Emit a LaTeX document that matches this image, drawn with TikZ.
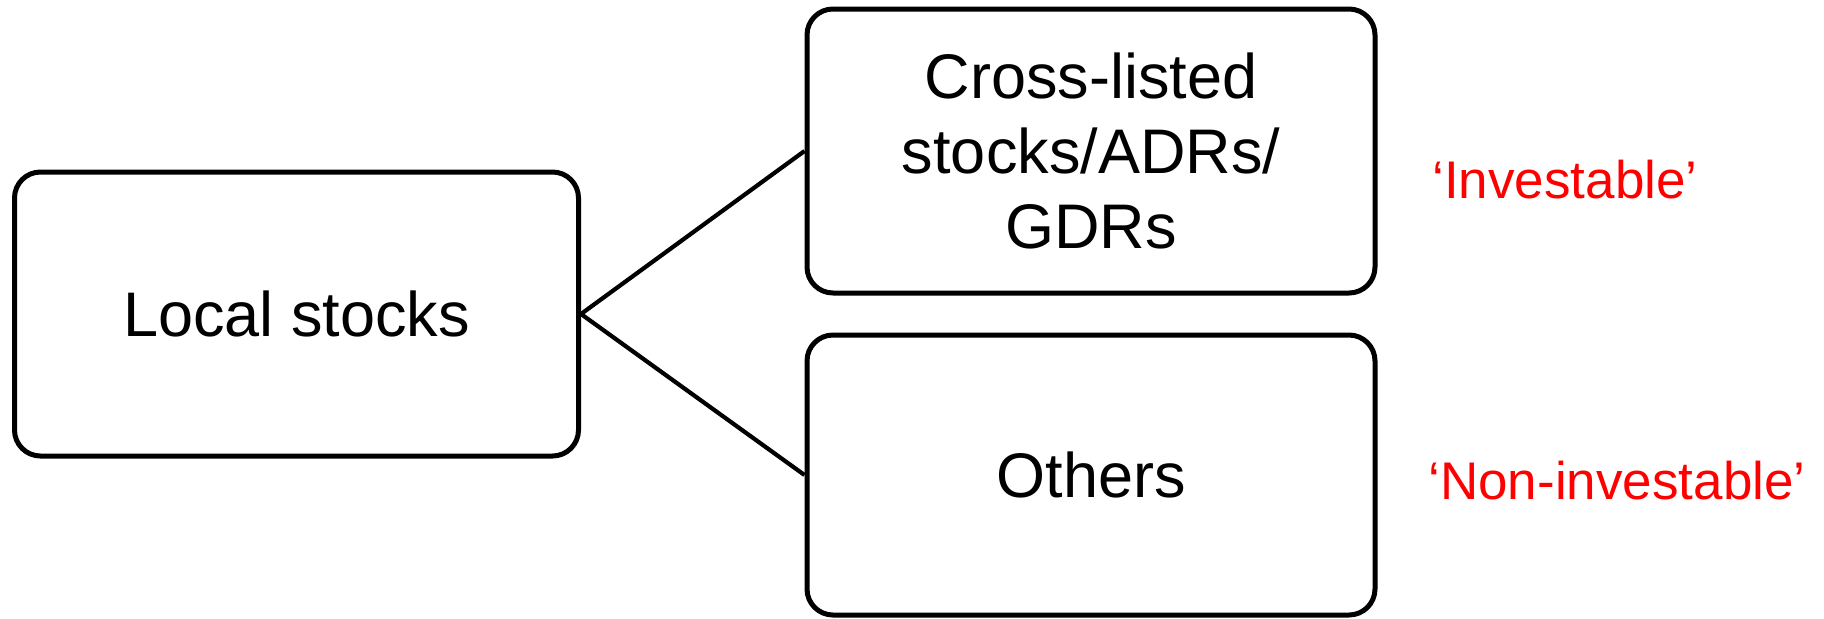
\documentclass[tikz,border=0pt]{standalone}
\usepackage{fontspec}
\setmainfont{Liberation Sans}
\begin{document}
\begin{tikzpicture}[x=0.5pt,y=-0.5pt,
  box/.style={draw=black, line width=2.5pt, rounded corners=13pt, fill=white,
    align=center, font=\fontsize{31.5pt}{37.5pt}\selectfont, inner sep=0pt},
  tag/.style={text=red, font=\fontsize{26.5pt}{31pt}\selectfont, inner sep=0pt},
  link/.style={line width=2.1pt}]
\useasboundingbox (0,0) rectangle (1824,618);
\node[box, minimum width=282pt, minimum height=142pt] (local) at (296.5,314) {Local stocks};
\node[box, minimum width=284pt, minimum height=142pt] (cross) at (1091,151)
  {Cross-listed\\stocks/ADRs/\\GDRs};
\node[box, minimum width=284pt, minimum height=140pt] (others) at (1091,475) {Others};
\node[tag] (inv) at (1565,180) {‘Investable’};
\node[tag] (noninv) at (1617,481) {‘Non-investable’};
\coordinate (fork) at (local.east);
\draw[link] (fork) -- (cross.west);
\draw[link] (fork) -- (others.west);
\end{tikzpicture}
\end{document}
